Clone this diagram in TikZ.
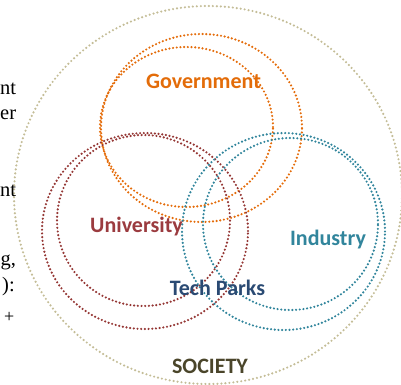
\documentclass[tikz,border=0pt]{standalone}
\usepackage{fontspec}
\setmainfont{Liberation Serif}
\newfontfamily\lblfont{Carlito}
\definecolor{govorange}{HTML}{E46C0A}
\definecolor{govtext}{HTML}{E36C09}
\definecolor{unired}{HTML}{953735}
\definecolor{unitext}{HTML}{9B3B3F}
\definecolor{indteal}{HTML}{31859C}
\definecolor{techblue}{HTML}{2A4A73}
\definecolor{soctext}{HTML}{4A452A}
\definecolor{socring}{HTML}{C4BD97}
\tikzset{
  dotring/.style={line width=2.4pt, line cap=round, dash pattern=on 0pt off 3.7pt},
  socdots/.style={line width=2.4pt, line cap=round, dash pattern=on 0pt off 4pt, draw=socring},
  lbl/.style={font=\lblfont\bfseries\fontsize{22}{25}\selectfont, anchor=base, inner sep=0pt},
  doctext/.style={font=\fontsize{20.5}{24}\selectfont, anchor=base west, inner sep=0pt, text=black}
}
\begin{document}
\begin{tikzpicture}[x=1pt,y=-1pt]
\useasboundingbox (0,0) rectangle (401,384);
\clip (0,0) rectangle (401,384);
% society ring
\draw[socdots] (208,195) ellipse [x radius=194pt, y radius=189pt];
% government
\draw[dotring, draw=govorange] (201.5,128) ellipse [x radius=100.5pt, y radius=94pt];
\draw[dotring, draw=govorange] (186.5,127) ellipse [x radius=86.5pt, y radius=80pt];
% university
\draw[dotring, draw=unired] (145,231) ellipse [x radius=103pt, y radius=98pt];
\draw[dotring, draw=unired] (143.5,220.5) ellipse [x radius=86.5pt, y radius=85.5pt];
% industry
\draw[dotring, draw=indteal] (283.5,231.5) ellipse [x radius=101.5pt, y radius=98.5pt];
\draw[dotring, draw=indteal] (290.5,224) ellipse [x radius=87.5pt, y radius=86pt];
% labels
\node[lbl, text=govtext] (gov) at (203.5,88) {Government};
\node[lbl, text=unitext] (uni) at (136.5,232) {University};
\node[lbl, text=indteal] (ind) at (328,245) {Industry};
\node[lbl, text=techblue] (tech) at (217.5,295) {Tech Parks};
\node[lbl, text=soctext] (soc) at (210,373) {SOCIETY};
% document text fragments at the left
\node[doctext] (t1) at (0,94) {nt};
\node[doctext] (t2) at (0,119) {er};
\node[doctext] (t3) at (0,196) {nt};
\node[doctext] (t4) at (0.5,265) {g,};
\node[doctext] (t5) at (2,291) {):};
\node[doctext, font=\fontsize{18}{22}\selectfont] (t6) at (4,322) {+};
\end{tikzpicture}
\end{document}
